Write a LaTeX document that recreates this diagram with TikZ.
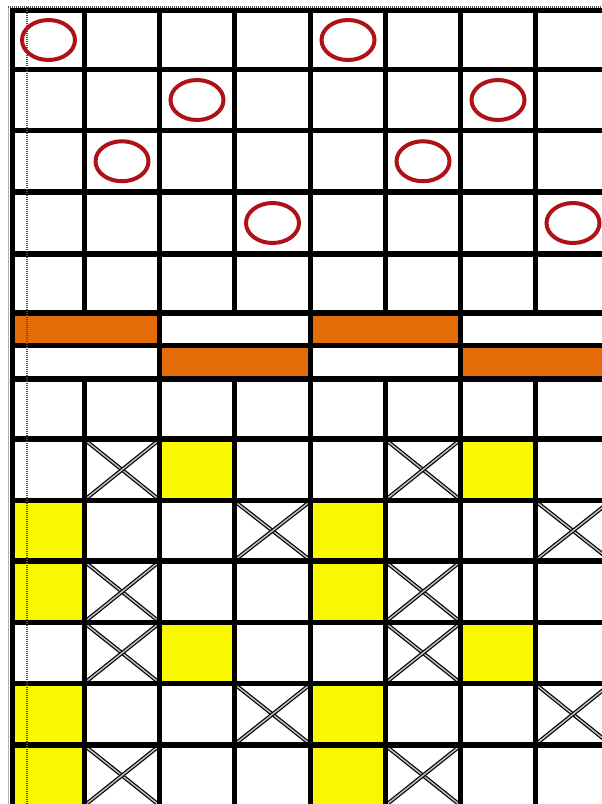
\documentclass[tikz,border=0pt]{standalone}
\definecolor{ringred}{RGB}{175,18,22}
\definecolor{barorange}{RGB}{227,108,9}
\definecolor{cellyellow}{RGB}{250,248,0}
\def\CX{{12.5,84.5,159.5,234.5,310.5,385.5,460.5,535.5,610.5}}
\def\RY{{10.5,69.5,130.5,192,254,313,345.5,379,439,500.5,561,622.5,683.5,745,806}}
\newcommand\myfill[3]{%
  \pgfmathsetmacro\xa{\CX[#1]+2.5}\pgfmathsetmacro\xb{\CX[#1+1]-2.5}%
  \pgfmathsetmacro\ya{\RY[#2]+2.5}\pgfmathsetmacro\yb{\RY[#2+1]-2.5}%
  \fill[#3] (\xa,\ya) rectangle (\xb,\yb);}
\newcommand\mybar[3]{%
  \pgfmathsetmacro\xa{\CX[#1]+2.5}\pgfmathsetmacro\xb{\CX[#1+2]-2.5}%
  \pgfmathsetmacro\ya{\RY[#2]+2.5}\pgfmathsetmacro\yb{\RY[#2+1]-2.5}%
  \fill[#3] (\xa,\ya) rectangle (\xb,\yb);}
\newcommand\myring[2]{%
  \pgfmathsetmacro\xa{\CX[#1]}\pgfmathsetmacro\xb{\CX[#1+1]}%
  \pgfmathsetmacro\ya{\RY[#2]}\pgfmathsetmacro\yb{\RY[#2+1]}%
  \draw[ring] ({(\xa+\xb)/2},{(\ya+\yb)/2}) ellipse [x radius=26.5pt, y radius=20pt];}
\newcommand\mycross[2]{%
  \pgfmathsetmacro\xa{\CX[#1]+3}\pgfmathsetmacro\xb{\CX[#1+1]-3}%
  \pgfmathsetmacro\ya{\RY[#2]+3}\pgfmathsetmacro\yb{\RY[#2+1]-3}%
  \draw[cross] (\xa,\ya) -- (\xb,\yb);
  \draw[cross] (\xa,\yb) -- (\xb,\ya);}
\begin{document}
\begin{tikzpicture}[x=1pt,y=-1pt,
  gridline/.style={line width=5.5pt,draw=black},
  ring/.style={draw=ringred,line width=4pt},
  cross/.style={draw=black,line width=1.2pt,double=gray!50,double distance=1.5pt},
  overlay dots/.style={draw=gray!60!black,line width=1.1pt,dash pattern=on 1pt off 1pt}]
\useasboundingbox (0,0) rectangle (602,804);
\fill[white] (0,0) rectangle (602,804);
% orange bars
\mybar{0}{5}{barorange}
\mybar{4}{5}{barorange}
\mybar{2}{6}{barorange}
\mybar{6}{6}{barorange}
% yellow cells
\foreach \c/\r in {2/8,6/8,0/9,4/9,0/10,4/10,2/11,6/11,0/12,4/12,0/13,4/13}{\myfill{\c}{\r}{cellyellow}}
% crosses
\foreach \c/\r in {1/8,5/8,3/9,7/9,1/10,5/10,1/11,5/11,3/12,7/12,1/13,5/13}{\mycross{\c}{\r}}
% rings
\foreach \c/\r in {0/0,4/0,2/1,6/1,1/2,5/2,3/3,7/3}{\myring{\c}{\r}}
% horizontal grid lines
\foreach \r in {0,...,13}{
  \pgfmathsetmacro\yy{\RY[\r]}
  \draw[gridline] (10,\yy) -- (602,\yy);}
% vertical grid lines
\foreach \c in {0,2,4,6}{
  \pgfmathsetmacro\xx{\CX[\c]}
  \draw[gridline] (\xx,8) -- (\xx,804);}
\foreach \c in {1,3,5,7}{
  \pgfmathsetmacro\xx{\CX[\c]}
  \draw[gridline] (\xx,8) -- (\xx,313);
  \draw[gridline] (\xx,379) -- (\xx,804);}
% screen artefact lines
\draw[gray!60,line width=0.8pt] (8,7) -- (8,804);
\draw[overlay dots] (27,7) -- (27,804);
\draw[overlay dots] (8,7) -- (602,7);
\end{tikzpicture}
\end{document}
